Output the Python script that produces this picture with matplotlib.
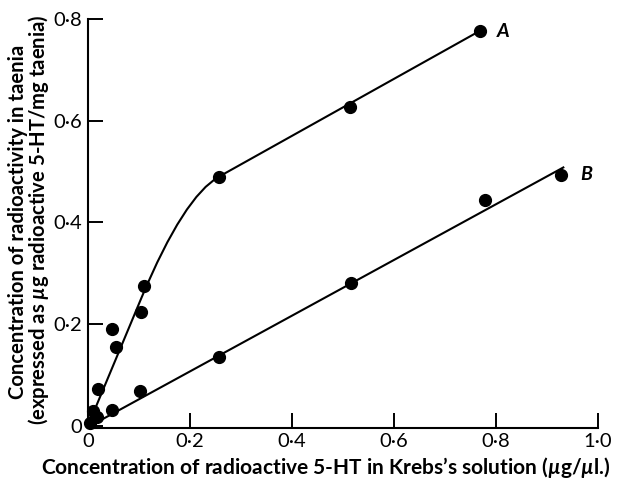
import matplotlib
matplotlib.use("Agg")
import matplotlib.pyplot as plt
from matplotlib.path import Path
from matplotlib.patches import PathPatch

plt.rcParams['font.family'] = ['Lato', 'DejaVu Sans']
plt.rcParams['mathtext.fontset'] = 'custom'
plt.rcParams['mathtext.it'] = 'Lato:italic:bold'
plt.rcParams['mathtext.rm'] = 'Lato:bold'
plt.rcParams['mathtext.bf'] = 'Lato:bold'

# Data points
a_x = [0.004, 0.009, 0.017, 0.019, 0.048, 0.054, 0.104, 0.110, 0.257, 0.514, 0.769]
a_y = [0.006, 0.029, 0.018, 0.072, 0.190, 0.154, 0.224, 0.274, 0.490, 0.627, 0.777]
b_x = [0.048, 0.102, 0.256, 0.516, 0.779, 0.927]
b_y = [0.031, 0.068, 0.135, 0.280, 0.444, 0.493]

# Fitted curve A: start, end of straight part, bend control, join point, end
curveA_x = [0.0, 0.105, 0.188, 0.257, 0.769]
curveA_y = [0.0, 0.252, 0.451, 0.490, 0.777]
# Fitted line B
lineB_x = [0.005, 0.932]
lineB_y = [0.0, 0.508]

xticks = [0, 0.2, 0.4, 0.6, 0.8, 1.0]
xticklabels = ['0', '0·2', '0·4', '0·6', '0·8', '1·0']
yticks = [0, 0.2, 0.4, 0.6, 0.8]
yticklabels = ['0', '0·2', '0·4', '0·6', '0·8']

fig = plt.figure(figsize=(6.27, 4.78), dpi=100)
ax = fig.add_axes([88/627, 1-427.5/478, (598-88)/627, (427.5-19)/478])
ax.set_xlim(0, 1.0)
ax.set_ylim(-0.0035, 0.8)

verts = list(zip(curveA_x, curveA_y))
codes = [Path.MOVETO, Path.LINETO, Path.CURVE3, Path.CURVE3, Path.LINETO]
ax.add_patch(PathPatch(Path(verts, codes), facecolor='none', edgecolor='black', lw=1.5, capstyle='butt'))
ax.plot(lineB_x, lineB_y, color='black', lw=1.5)

ax.plot(a_x, a_y, 'o', color='black', ms=8.5, clip_on=False)
ax.plot(b_x, b_y, 'o', color='black', ms=8.5, clip_on=False)

ax.text(0.801, 0.776, 'A', fontsize=14, style='italic', fontweight='bold', ha='left', va='center')
ax.text(0.965, 0.495, 'B', fontsize=14, style='italic', fontweight='bold', ha='left', va='center')

for s in ['top', 'right']:
    ax.spines[s].set_visible(False)
for s in ['left', 'bottom']:
    ax.spines[s].set_linewidth(1.5)

ax.set_xticks(xticks)
ax.set_xticklabels(xticklabels)
ax.set_yticks(yticks)
ax.set_yticklabels(yticklabels)
ax.tick_params(direction='in', length=11, width=1.4, labelsize=14.5, pad=4)

fig.text(326/627, 1-467/478, 'Concentration of radioactive 5-HT in Krebs’s solution ($\\mathit{µ}$g/$\\mathit{µ}$l.)',
         fontsize=15, fontweight='bold', ha='center', va='center')
fig.text(18/627, 1-222/478, 'Concentration of radioactivity in taenia',
         fontsize=14.6, fontweight='bold', rotation=90, ha='center', va='center')
fig.text(39/627, 1-220/478, '(expressed as $\\mathit{µ}$g radioactive 5-HT/mg taenia)',
         fontsize=14.6, fontweight='bold', rotation=90, ha='center', va='center')

fig.savefig('out.png', dpi=100)
